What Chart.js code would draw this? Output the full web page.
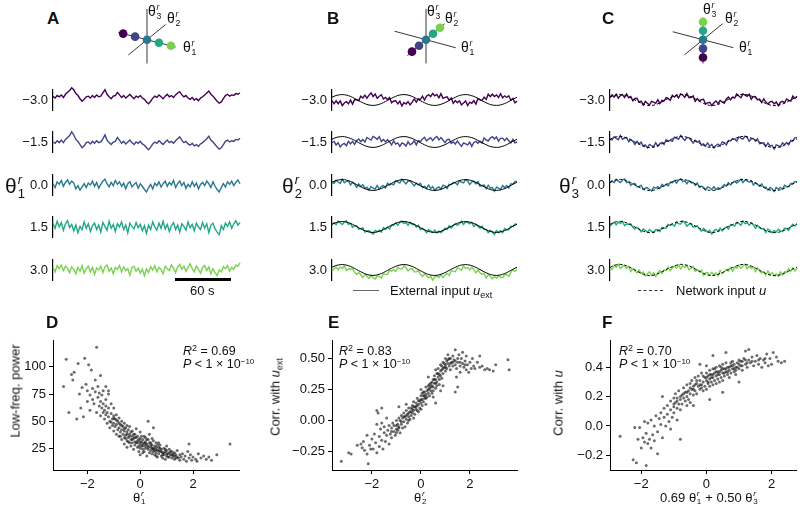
<!DOCTYPE html>
<html><head><meta charset="utf-8">
<script src="https://cdn.jsdelivr.net/npm/chart.js@4.4.1/dist/chart.umd.min.js"></script>
<style>
html,body{margin:0;padding:0;background:#fff;}
body{position:relative;width:800px;height:516px;overflow:hidden;font-family:'Liberation Sans',Arial,sans-serif;color:#111;}
canvas{position:absolute;}
.t{position:absolute;white-space:nowrap;line-height:1;}
.lab{font-weight:bold;font-size:17px;}
.ss{position:relative;display:inline-block;width:0.42em;height:0;}
.ss span{position:absolute;left:0.08em;font-size:0.62em;line-height:1;}
.ss .up{top:-1.55em;font-style:italic;}
.ss .dn{top:-0.45em;}
.rot{position:absolute;white-space:nowrap;line-height:1;transform:translate(-50%,-50%) rotate(-90deg);}
sub,sup{line-height:0;}
</style>
</head><body>
<script>
// ---------- data ----------
const rowLabels = ['\u22123.0','\u22121.5','0.0','1.5','3.0'];
const rowValues = [-3, -1.5, 0, 1.5, 3];
const rowColors = ['#440154','#414487','#2a788e','#22a884','#7ad151'];

const traceA1 = [0.30,0.15,0.35,0.25,0.40,0.20,0.45,0.60,0.75,0.95,0.80,0.50,0.35,0.10,-0.10,0.05,0.25,0.30,0.15,0.35,0.20,0.40,0.25,0.30,0.55,0.80,0.45,0.25,0.10,0.30,0.35,0.60,0.40,0.20,0.35,0.15,0.30,0.45,0.25,0.10,0.30,0.20,0.35,0.15,0.05,-0.15,-0.30,-0.10,0.15,0.30,0.20,0.40,0.25,0.10,0.30,0.45,0.25,0.35,0.20,0.40,0.55,0.65,0.40,0.25,0.35,0.15,0.05,0.20,0.00,0.10,-0.05,0.15,0.25,0.40,0.55,0.70,0.45,0.30,0.10,-0.10,-0.25,-0.15,0.10,0.35,0.45,0.30,0.40,0.35,0.50,0.45,0.55];
const traceA2 = [0.00,-0.10,0.10,-0.05,0.15,-0.05,0.20,0.35,0.50,0.80,0.55,0.20,0.05,-0.20,-0.45,-0.30,-0.05,0.00,-0.15,0.05,-0.10,0.10,-0.05,0.00,0.25,0.55,0.15,-0.05,-0.20,0.00,0.05,0.35,0.15,-0.10,0.05,-0.15,0.00,0.15,-0.05,-0.20,0.00,-0.10,0.05,-0.15,-0.25,-0.45,-0.60,-0.40,-0.15,0.00,-0.10,0.10,-0.05,-0.20,0.00,0.15,-0.05,0.05,-0.10,0.10,0.25,0.40,0.15,-0.05,0.05,-0.15,-0.25,-0.10,-0.30,-0.20,-0.35,-0.15,-0.05,0.10,0.25,0.45,0.15,0.00,-0.20,-0.40,-0.55,-0.45,-0.20,0.05,0.15,0.00,0.10,0.05,0.20,0.15,0.30];
const traceA3 = [0.10,-0.20,0.25,0.05,0.35,-0.10,0.20,0.40,0.05,0.30,0.15,-0.30,-0.05,-0.40,-0.15,0.10,-0.20,0.15,0.00,0.30,-0.10,0.20,-0.25,0.05,0.30,0.45,0.10,-0.15,0.20,-0.05,0.35,0.05,0.25,-0.10,0.15,-0.30,0.10,0.25,-0.15,0.05,0.20,-0.25,0.10,-0.10,-0.35,-0.55,-0.20,0.05,-0.30,0.15,-0.05,0.25,-0.15,0.10,0.30,-0.10,0.20,0.00,0.35,-0.20,0.10,0.30,-0.05,0.20,-0.25,0.05,-0.15,0.25,-0.10,0.15,-0.30,0.05,0.20,-0.05,0.30,0.10,-0.20,0.25,-0.10,-0.35,-0.55,-0.20,0.10,-0.15,0.25,0.05,0.30,-0.05,0.20,0.40,0.10];
const traceA4 = [0.30,-0.10,0.45,0.00,0.35,-0.25,0.25,0.50,-0.05,0.20,-0.30,0.15,-0.45,0.05,-0.20,0.40,-0.10,0.25,-0.35,0.10,0.30,-0.20,0.15,-0.40,0.35,0.05,-0.25,0.45,-0.10,0.20,-0.35,0.25,0.00,0.40,-0.20,0.15,-0.45,0.30,0.05,-0.15,0.35,-0.05,0.20,-0.30,0.10,-0.50,0.15,-0.20,0.40,0.00,-0.25,0.30,-0.10,0.45,-0.15,0.20,-0.35,0.10,0.35,-0.20,0.15,-0.40,0.25,0.05,-0.25,0.40,-0.05,0.20,-0.30,0.30,0.00,-0.20,0.35,-0.10,0.25,-0.45,0.15,0.30,-0.15,-0.40,-0.60,0.10,-0.20,0.30,0.05,0.40,-0.10,0.25,0.50,0.15,0.35];
const traceA5 = [0.20,-0.15,0.35,0.10,0.40,-0.05,0.30,0.15,-0.20,0.25,0.05,-0.30,0.20,-0.10,0.35,-0.25,0.10,0.30,-0.15,0.20,-0.35,0.15,0.00,0.30,-0.20,0.25,0.40,-0.10,0.15,-0.30,0.20,0.05,0.35,-0.15,0.25,-0.05,0.10,-0.40,0.20,0.30,-0.10,0.15,-0.25,0.05,-0.45,0.10,-0.20,0.25,0.00,0.35,-0.15,0.20,0.05,-0.30,0.30,0.10,-0.05,0.40,0.15,-0.20,0.25,0.45,0.05,0.30,-0.10,0.20,0.50,0.10,-0.15,0.30,0.05,-0.25,0.20,0.35,-0.05,0.25,-0.30,0.10,-0.20,-0.45,0.00,-0.15,0.25,0.10,0.35,-0.10,0.20,0.05,0.40,0.30,0.55];

const traceB1 = [-0.05,-0.37,-0.08,-0.37,-0.09,-0.55,-0.29,-0.16,-0.37,-0.01,-0.40,0.04,0.02,-0.05,0.38,0.20,0.47,0.18,0.47,0.69,0.35,0.59,0.16,0.37,0.51,0.10,0.26,0.03,0.25,-0.28,-0.10,-0.07,-0.38,-0.12,-0.59,-0.25,-0.39,-0.16,-0.47,-0.21,0.10,-0.21,0.12,0.05,0.38,0.00,0.37,0.53,0.32,0.64,0.40,0.54,0.21,0.62,0.16,0.25,0.31,-0.02,0.20,-0.33,-0.05,-0.27,-0.08,-0.47,-0.29,-0.10,-0.54,-0.21,-0.32,-0.06,-0.40,0.14,0.02,-0.05,0.28,0.05,0.57,0.33,0.57,0.34,0.50,0.24,0.61,0.22,0.41,0.25,0.41,-0.02,0.15,-0.28,-0.10];
const traceB2 = [-0.05,0.05,-0.29,-0.07,-0.49,-0.24,-0.14,-0.36,0.07,-0.19,0.06,-0.23,0.13,0.29,0.04,0.25,0.00,0.44,0.32,0.19,0.54,0.44,0.26,0.53,0.04,0.24,0.03,0.22,0.01,-0.29,0.10,-0.20,-0.09,-0.42,-0.09,-0.19,-0.39,0.04,-0.28,-0.14,0.11,-0.28,0.13,0.04,0.29,0.45,0.10,0.29,0.42,0.14,0.39,0.54,0.21,0.43,0.19,-0.06,0.23,0.27,-0.14,0.01,-0.20,0.10,-0.19,-0.42,-0.09,-0.19,-0.29,-0.01,-0.43,-0.04,0.06,-0.13,0.08,-0.11,0.39,0.20,0.10,0.39,0.52,0.29,0.49,0.09,0.36,0.38,0.14,0.39,0.13,-0.08,0.26,-0.09,0.00];
const traceB3 = [0.26,0.17,0.46,0.29,0.16,0.57,0.21,0.34,0.40,0.01,0.26,0.09,-0.23,0.11,-0.15,0.04,-0.32,-0.21,-0.49,-0.16,-0.32,-0.41,-0.04,-0.40,-0.16,-0.06,-0.29,0.18,-0.01,0.10,0.01,0.42,0.31,0.19,0.56,0.32,0.11,0.39,0.40,0.16,-0.09,0.19,0.02,0.16,-0.25,-0.11,-0.32,-0.01,-0.34,-0.16,-0.52,-0.31,-0.19,-0.40,-0.01,-0.11,-0.34,0.08,0.04,0.25,0.21,0.02,0.41,0.29,0.21,0.52,0.41,0.04,0.30,0.36,0.11,0.34,-0.13,-0.04,0.00,-0.36,-0.02,-0.31,-0.24,-0.61,-0.22,-0.31,-0.44,-0.05,-0.26,-0.06,-0.29,0.13,0.09,0.35,0.36];
const traceB4 = [0.23,0.41,0.22,0.57,0.39,0.25,0.49,0.61,0.26,0.35,-0.03,0.13,0.13,-0.21,-0.19,-0.08,-0.51,-0.37,-0.37,-0.54,-0.70,-0.34,-0.46,-0.31,-0.50,-0.07,-0.23,-0.03,-0.19,0.19,0.18,0.41,0.17,0.47,0.59,0.35,0.44,0.16,0.46,0.25,0.27,-0.02,0.18,-0.26,-0.14,-0.28,-0.56,-0.27,-0.37,-0.54,-0.30,-0.59,-0.41,-0.56,-0.35,-0.12,-0.23,0.12,-0.09,0.14,0.33,0.16,0.32,0.57,0.24,0.50,0.44,0.31,0.46,0.05,0.27,0.08,-0.12,0.09,-0.24,-0.23,-0.56,-0.32,-0.47,-0.74,-0.35,-0.54,-0.36,-0.56,-0.15,-0.27,-0.28,0.07,0.06,0.29,0.28];
const traceB5 = [-0.12,0.11,0.27,0.02,0.29,0.15,0.39,-0.04,0.11,0.10,0.12,-0.22,-0.42,-0.26,-0.44,-0.73,-0.46,-0.62,-0.82,-0.54,-0.75,-0.89,-0.61,-0.61,-0.80,-0.37,-0.43,-0.43,-0.04,-0.11,0.03,-0.14,0.27,0.12,0.09,0.40,0.24,-0.09,0.11,0.15,-0.18,-0.17,-0.07,-0.41,-0.64,-0.38,-0.56,-0.77,-0.62,-0.99,-0.70,-0.59,-0.76,-0.46,-0.75,-0.52,-0.33,-0.53,-0.09,-0.11,-0.17,0.21,0.12,-0.03,0.39,0.15,0.24,0.01,0.26,0.05,-0.28,-0.02,-0.27,-0.41,-0.34,-0.78,-0.46,-0.62,-0.87,-0.64,-0.80,-0.54,-0.71,-0.76,-0.45,-0.47,-0.63,-0.23,0.01,-0.16,0.08];

const traceC1 = [0.28,0.50,0.27,0.56,0.18,0.44,0.52,0.24,0.59,0.22,0.35,-0.07,0.15,0.17,-0.20,-0.12,-0.49,-0.14,-0.32,-0.49,-0.13,-0.21,-0.32,0.04,-0.35,-0.03,-0.10,0.23,0.15,-0.04,0.47,0.28,0.48,0.21,0.59,0.49,0.26,0.63,0.23,0.27,0.40,-0.13,0.14,-0.08,0.04,0.07,-0.39,-0.29,-0.22,-0.54,-0.27,-0.09,-0.35,-0.05,-0.18,-0.31,0.11,0.29,0.01,0.28,0.18,0.59,0.39,0.22,0.59,0.48,0.36,0.57,0.07,0.35,0.33,0.01,0.08,-0.25,0.12,-0.20,-0.40,-0.19,-0.12,-0.39,-0.19,-0.56,-0.23,-0.13,-0.27,0.10,-0.03,-0.10,0.38,0.15,0.36];
const traceC2 = [0.28,0.20,0.52,0.36,0.23,0.64,0.27,0.39,0.44,0.02,0.25,0.08,-0.25,0.07,-0.20,-0.02,-0.39,-0.29,-0.57,-0.24,-0.38,-0.46,-0.07,-0.41,-0.15,-0.03,-0.25,0.23,0.05,0.16,0.07,0.48,0.38,0.26,0.64,0.39,0.16,0.43,0.43,0.17,-0.10,0.17,-0.01,0.12,-0.31,-0.18,-0.39,-0.09,-0.42,-0.24,-0.57,-0.34,-0.20,-0.40,0.02,-0.06,-0.29,0.14,0.11,0.33,0.28,0.09,0.49,0.37,0.29,0.58,0.46,0.07,0.32,0.35,0.08,0.31,-0.17,-0.10,-0.08,-0.45,-0.10,-0.39,-0.32,-0.69,-0.29,-0.36,-0.48,-0.08,-0.27,-0.05,-0.28,0.15,0.13,0.40,0.41];
const traceC3 = [0.23,0.40,0.22,0.56,0.38,0.24,0.47,0.59,0.24,0.32,-0.05,0.13,0.15,-0.18,-0.15,-0.02,-0.44,-0.29,-0.27,-0.44,-0.58,-0.21,-0.32,-0.16,-0.35,0.07,-0.10,0.08,-0.10,0.26,0.22,0.43,0.18,0.46,0.59,0.34,0.41,0.13,0.43,0.22,0.25,-0.03,0.19,-0.23,-0.11,-0.23,-0.49,-0.19,-0.27,-0.44,-0.17,-0.44,-0.25,-0.40,-0.18,0.04,-0.09,0.24,0.01,0.23,0.38,0.19,0.34,0.57,0.24,0.48,0.41,0.27,0.42,0.00,0.23,0.06,-0.12,0.10,-0.23,-0.20,-0.50,-0.24,-0.37,-0.64,-0.24,-0.41,-0.23,-0.43,-0.02,-0.15,-0.18,0.15,0.13,0.35,0.31];
const traceC4 = [0.08,0.30,0.47,0.21,0.48,0.34,0.57,0.14,0.29,0.27,0.30,-0.02,-0.20,-0.03,-0.20,-0.47,-0.19,-0.34,-0.52,-0.24,-0.43,-0.56,-0.27,-0.26,-0.45,-0.03,-0.10,-0.12,0.25,0.16,0.27,0.08,0.48,0.31,0.29,0.59,0.41,0.08,0.28,0.32,0.00,0.02,0.14,-0.18,-0.41,-0.13,-0.29,-0.49,-0.32,-0.69,-0.37,-0.24,-0.40,-0.10,-0.38,-0.16,0.01,-0.21,0.21,0.18,0.08,0.44,0.34,0.17,0.59,0.33,0.41,0.17,0.42,0.20,-0.12,0.16,-0.07,-0.20,-0.13,-0.55,-0.20,-0.34,-0.57,-0.34,-0.49,-0.21,-0.38,-0.43,-0.12,-0.15,-0.33,0.05,0.28,0.10,0.31];
const traceC5 = [0.23,0.05,0.47,0.26,0.58,0.14,0.37,0.44,0.14,0.37,-0.15,0.13,-0.05,-0.28,0.00,-0.32,-0.19,-0.59,-0.37,-0.19,-0.53,-0.26,-0.62,-0.31,-0.05,-0.33,0.00,-0.07,0.30,-0.09,0.22,0.38,0.18,0.51,0.09,0.44,0.26,0.43,0.03,0.17,0.35,-0.13,0.04,-0.18,-0.01,-0.53,-0.29,-0.24,-0.52,-0.24,-0.47,-0.29,-0.55,-0.05,-0.38,-0.16,0.06,-0.11,0.26,-0.12,0.28,0.19,0.49,0.17,0.39,0.58,0.11,0.37,0.17,0.30,-0.17,0.21,-0.07,-0.30,-0.13,-0.50,-0.10,-0.44,-0.27,-0.54,-0.39,-0.61,-0.18,-0.48,-0.17,-0.20,0.12,-0.15,0.18,-0.10,0.21];

const extInput = [0.27,0.36,0.44,0.49,0.52,0.53,0.52,0.48,0.42,0.35,0.26,0.15,0.04,-0.07,-0.17,-0.27,-0.36,-0.44,-0.49,-0.52,-0.53,-0.52,-0.48,-0.42,-0.35,-0.26,-0.15,-0.04,0.07,0.17,
0.27,0.36,0.44,0.49,0.52,0.53,0.52,0.48,0.42,0.35,0.26,0.15,0.04,-0.07,-0.17,-0.27,-0.36,-0.44,-0.49,-0.52,-0.53,-0.52,-0.48,-0.42,-0.35,-0.26,-0.15,-0.04,0.07,0.17,
0.27,0.36,0.44,0.49,0.52,0.53,0.52,0.48,0.42,0.35,0.26,0.15,0.04,-0.07,-0.17,-0.27,-0.36,-0.44,-0.49,-0.52,-0.53,-0.52,-0.48,-0.42,-0.35,-0.26,-0.15,-0.04,0.07,0.17,0.27];
const netInput = [0.25,0.36,0.45,0.51,0.54,0.55,0.53,0.48,0.41,0.32,0.22,0.11,0.00,-0.11,-0.22,-0.32,-0.41,-0.48,-0.53,-0.55,-0.54,-0.51,-0.45,-0.37,-0.28,-0.18,-0.07,0.04,0.14,0.23,
0.32,0.40,0.47,0.52,0.55,0.55,0.52,0.47,0.40,0.31,0.21,0.10,-0.01,-0.12,-0.23,-0.33,-0.42,-0.49,-0.53,-0.55,-0.53,-0.49,-0.43,-0.35,-0.26,-0.16,-0.05,0.06,0.16,0.25,
0.33,0.41,0.48,0.53,0.55,0.54,0.51,0.45,0.38,0.29,0.19,0.08,-0.03,-0.14,-0.25,-0.35,-0.43,-0.49,-0.53,-0.55,-0.55,-0.52,-0.47,-0.40,-0.32,-0.22,-0.11,0.00,0.11,0.21,0.30];

const pointsD = [[-2.9,82],[-2.8,107],[-2.7,58],[-2.6,93],[-2.55,88],[-2.5,95],[-2.4,52],[-2.35,103],[-2.3,75],[-2.25,62],[-2.2,81],[-2.15,54],[-2.1,108],[-2.05,84],[-2.0,78],[-2.0,68],[-1.95,102],[-1.9,74],[-1.9,60],[-1.85,97],[-1.8,80],[-1.8,70],[-1.75,66],[-1.7,88],[-1.7,77],[-1.65,118],[-1.65,58],[-1.6,72],[-1.6,82],[-1.55,64],[-1.55,76],[-1.5,92],[-1.5,55],[-1.5,68],
[-1.45,62],[-1.45,74],[-1.4,58],[-1.4,66],[-1.4,78],[-1.35,52],[-1.35,60],[-1.3,70],[-1.3,56],[-1.3,64],[-1.25,48],[-1.25,58],[-1.2,62],[-1.2,54],[-1.2,75],[-1.15,50],[-1.15,44],[-1.1,57],[-1.1,49],[-1.1,66],[-1.05,52],[-1.05,46],[-1.0,41],[-1.0,55],[-1.0,48],[-1.0,62],[-1.3,82],[-1.2,78],
[-0.95,45],[-0.95,52],[-0.9,38],[-0.9,47],[-0.9,56],[-0.85,42],[-0.85,50],[-0.8,44],[-0.8,36],[-0.8,53],[-0.75,40],[-0.75,47],[-0.7,33],[-0.7,42],[-0.7,50],[-0.65,38],[-0.65,45],[-0.6,35],[-0.6,41],[-0.6,48],[-0.6,29],[-0.55,37],[-0.55,44],[-0.5,32],[-0.5,40],[-0.5,46],[-0.5,26],
[-0.45,35],[-0.45,42],[-0.4,30],[-0.4,38],[-0.4,45],[-0.35,33],[-0.35,27],[-0.3,36],[-0.3,41],[-0.3,30],[-0.25,34],[-0.25,24],[-0.2,38],[-0.2,31],[-0.2,28],[-0.15,35],[-0.15,43],[-0.1,30],[-0.1,26],[-0.1,36],[-0.05,33],[-0.05,22],[0.0,29],[0.0,34],[0.0,25],[0.0,40],[0.0,19],
[0.05,31],[0.05,27],[0.1,24],[0.1,33],[0.1,29],[0.15,36],[0.15,22],[0.2,27],[0.2,31],[0.2,25],[0.25,18],[0.25,29],[0.3,24],[0.3,33],[0.3,27],[0.35,21],[0.35,38],[0.4,26],[0.4,23],[0.4,30],[0.45,20],[0.45,28],[0.5,25],[0.5,22],[0.5,32],[0.5,44],[0.3,50],
[0.55,27],[0.55,19],[0.6,24],[0.6,21],[0.6,30],[0.65,23],[0.65,17],[0.7,26],[0.7,20],[0.75,22],[0.75,28],[0.8,18],[0.8,24],[0.85,21],[0.85,16],[0.9,25],[0.9,19],[0.95,22],[1.0,18],[1.0,23],[1.0,27],[0.95,15],
[1.05,20],[1.1,17],[1.1,24],[1.15,19],[1.2,22],[1.2,16],[1.25,18],[1.3,21],[1.3,15],[1.35,19],[1.4,17],[1.4,23],[1.45,16],[1.5,19],[1.5,14],
[1.55,17],[1.6,20],[1.65,15],[1.7,18],[1.75,13],[1.8,22],[1.85,16],[1.9,19],[1.95,14],[1.85,29],[2.0,17],
[2.1,15],[2.2,20],[2.3,16],[2.4,18],[2.5,15],[2.6,17],[2.7,14],[2.9,19],[3.4,29],[2.15,13],
[-0.3,33],[-0.2,35],[-0.1,32],[0.0,31],[0.1,27],[0.2,29],[0.3,26],[0.4,28],[0.5,24],[0.6,26],[0.7,23],[0.8,22],[0.9,21],[1.0,20],[1.1,21],[1.2,19],[1.3,18],[-0.4,36],[-0.5,38],[-0.6,43],[-0.7,46],[-0.8,48],[-0.9,51],[-1.0,53],[0.05,36],[0.15,30],[0.25,33],[0.35,30],[0.45,25],[0.55,23],[0.65,28],[0.75,25],[0.85,19],[-0.15,30],[-0.25,38],[-0.35,40],[0.95,24],[1.05,17],[1.15,22],[1.25,20],[1.35,16],[0.7,30],[0.2,35],[-0.05,27],[-0.45,31],[-0.55,34],[0.45,34],[0.1,21],[0.6,18],[-0.75,36]];

const pointsE = [[-3.25,-0.33],[-2.95,-0.26],[-2.85,-0.27],[-2.6,-0.2],[-2.45,-0.19],[-2.4,-0.22],[-2.35,-0.17],[-2.3,-0.24],[-2.2,-0.12],[-2.2,-0.27],[-2.15,-0.35],[-2.1,-0.2],[-2.05,-0.23],[-2.0,-0.15],[-1.95,-0.23],[-1.9,-0.11],[-1.85,-0.18],[-1.8,-0.03],[-1.8,-0.26],[-1.75,0.06],[-1.7,-0.13],[-1.7,-0.21],[-1.65,-0.07],[-1.6,-0.16],[-1.6,-0.02],[-1.55,-0.23],[-1.5,-0.1],[-1.5,-0.05],[-1.45,-0.17],[-1.4,-0.12],[-1.4,0.02],[-1.35,-0.08],[-1.3,-0.19],[-1.3,-0.04],
[-1.25,-0.11],[-1.2,-0.06],[-1.2,-0.14],[-1.15,-0.02],[-1.1,-0.09],[-1.1,-0.04],[-1.05,-0.12],[-1.0,-0.07],[-1.0,0.0],[-1.0,-0.1],[-0.95,-0.03],[-0.95,-0.08],[-0.9,0.02],[-0.9,-0.05],[-0.85,-0.1],[-0.85,0.0],[-0.8,-0.03],[-0.8,0.04],[-0.75,-0.06],[-0.75,0.02],[-0.7,0.06],[-0.7,-0.01],[-0.65,0.03],[-0.65,-0.05],[-0.6,0.08],[-0.6,0.01],[-0.55,0.05],[-0.55,-0.02],[-0.5,0.03],[-0.5,0.1],[-0.5,0.06],
[-0.45,0.07],[-0.45,0.01],[-0.4,0.1],[-0.4,0.04],[-0.35,0.12],[-0.35,0.06],[-0.3,0.08],[-0.3,0.15],[-0.3,0.02],[-0.25,0.11],[-0.25,0.05],[-0.2,0.14],[-0.2,0.09],[-0.15,0.12],[-0.15,0.18],[-0.1,0.07],[-0.1,0.13],[-0.05,0.16],[-0.05,0.1],[0.0,0.14],[0.0,0.2],[0.0,0.09],[0.0,0.25],
[0.05,0.17],[0.05,0.12],[0.1,0.2],[0.1,0.15],[0.15,0.23],[0.15,0.18],[0.2,0.13],[0.2,0.21],[0.2,0.27],[0.25,0.19],[0.25,0.24],[0.3,0.22],[0.3,0.28],[0.35,0.2],[0.35,0.26],[0.4,0.3],[0.4,0.24],[0.45,0.28],[0.45,0.22],[0.5,0.33],[0.5,0.27],[0.5,0.19],
[0.55,0.3],[0.55,0.36],[0.6,0.26],[0.6,0.33],[0.65,0.38],[0.65,0.31],[0.7,0.35],[0.7,0.42],[0.75,0.29],[0.75,0.37],[0.8,0.4],[0.8,0.45],[0.85,0.34],[0.85,0.41],[0.9,0.47],[0.9,0.38],[0.95,0.43],[1.0,0.5],[1.0,0.4],[1.0,0.45],[0.6,0.14],[0.8,0.24],[0.9,0.28],
[1.05,0.48],[1.05,0.42],[1.1,0.53],[1.1,0.46],[1.15,0.44],[1.2,0.5],[1.2,0.41],[1.25,0.47],[1.3,0.52],[1.3,0.44],[1.35,0.49],[1.4,0.57],[1.4,0.45],[1.45,0.42],[1.5,0.5],[1.5,0.47],[1.5,0.27],[1.4,0.23],[1.45,0.35],
[1.55,0.53],[1.6,0.44],[1.6,0.39],[1.65,0.5],[1.7,0.46],[1.7,0.55],[1.75,0.43],[1.8,0.48],[1.85,0.41],[1.85,0.52],[1.9,0.45],[1.95,0.39],[2.0,0.47],[2.05,0.42],[2.1,0.5],[2.15,0.44],[2.2,0.42],
[2.3,0.47],[2.4,0.43],[2.5,0.44],[2.6,0.41],[2.7,0.42],[2.8,0.41],[2.95,0.4],[3.05,0.45],[3.55,0.49],[3.6,0.41],[2.4,0.52],
[-0.9,0.11],[-0.6,0.13],[0.3,0.35],[0.6,0.41],[-1.6,0.1],[-1.8,0.08],
[-0.8,-0.01],[-0.6,0.04],[-0.4,0.07],[-0.2,0.11],[0.0,0.17],[0.2,0.18],[0.4,0.27],[0.6,0.3],[0.8,0.36],[1.0,0.43],[1.2,0.46],[1.4,0.48],[-1.0,-0.04],[-1.2,-0.09],[-0.5,0.0],[-0.3,0.11],[-0.1,0.16],[0.1,0.23],[0.3,0.25],[0.5,0.24],[0.7,0.38],[0.9,0.42],[1.1,0.49],[1.3,0.47],[1.6,0.47],[1.8,0.45],[-0.7,0.03],[0.15,0.2],[0.35,0.29],[0.55,0.33],[0.75,0.33],[0.95,0.46],[-0.15,0.08],[-0.35,0.09],[0.05,0.22],[0.45,0.31],[0.65,0.28],[0.85,0.44],[1.15,0.5],[-0.9,-0.06]];

const pointsF = [[-2.65,-0.07],[-2.25,-0.23],[-2.2,-0.01],[-2.15,-0.25],[-2.1,-0.09],[-2.05,-0.01],[-2.0,-0.15],[-1.95,-0.08],[-1.9,-0.11],[-1.9,0.03],[-1.85,-0.27],[-1.85,-0.05],[-1.8,-0.12],[-1.8,0.02],[-1.75,-0.09],[-1.7,0.04],[-1.7,-0.15],[-1.65,-0.06],[-1.6,0.0],[-1.6,-0.1],[-1.55,0.07],[-1.5,-0.04],[-1.5,-0.19],[-1.45,0.05],[-1.4,0.01],[-1.4,0.09],[-1.35,-0.08],[-1.3,0.06],[-1.3,0.12],[-1.25,0.0],[-1.2,0.08],[-1.2,0.14],[-1.15,0.03],[-1.1,0.11],[-1.1,0.17],[-1.05,0.06],[-1.0,0.13],[-1.0,0.19],[-1.0,0.09],[-0.95,0.16],[-0.95,0.22],[-0.9,0.12],[-0.9,0.19],[-0.85,0.15],[-0.85,0.24],[-0.8,0.18],[-0.8,0.11],[-0.8,-0.09],[-0.75,0.21],[-0.75,0.15],[-0.7,0.19],[-0.7,0.26],[-0.65,0.17],[-0.65,0.23],[-0.6,0.2],[-0.6,0.28],[-0.6,0.14],[-0.55,0.24],[-0.55,0.18],[-0.5,0.22],[-0.5,0.29],[-0.5,0.16],[-0.45,0.25],[-0.45,0.31],[-0.4,0.21],[-0.4,0.27],[-0.35,0.24],[-0.35,0.33],[-0.3,0.29],[-0.3,0.22],[-0.25,0.27],[-0.25,0.34],[-0.2,0.25],[-0.2,0.31],[-0.15,0.28],[-0.15,0.36],[-0.1,0.3],[-0.1,0.24],[-0.05,0.33],[-0.05,0.27],[0.0,0.31],[0.0,0.36],[0.0,0.25],[0.0,0.41],[0.05,0.29],[0.05,0.34],[0.1,0.32],[0.1,0.38],[0.1,0.27],[0.15,0.35],[0.15,0.3],[0.2,0.33],[0.2,0.39],[0.2,0.28],[0.25,0.36],[0.25,0.31],[0.3,0.34],[0.3,0.4],[0.3,0.29],[0.35,0.37],[0.35,0.32],[0.4,0.35],[0.4,0.41],[0.4,0.3],[0.45,0.38],[0.45,0.33],[0.5,0.36],[0.5,0.42],[0.5,0.31],[0.55,0.39],[0.55,0.34],[0.6,0.37],[0.6,0.43],[0.65,0.35],[0.65,0.4],[0.7,0.38],[0.7,0.33],[0.75,0.41],[0.75,0.36],[0.8,0.39],[0.8,0.44],[0.85,0.37],[0.85,0.42],[0.9,0.4],[0.9,0.35],[0.95,0.43],[1.0,0.39],[1.0,0.45],[1.05,0.41],[1.1,0.44],[1.1,0.38],[1.15,0.46],[1.2,0.42],[1.2,0.51],[1.25,0.4],[1.3,0.45],[1.35,0.43],[1.4,0.47],[1.45,0.41],[1.5,0.44],[1.55,0.48],[1.6,0.42],[1.65,0.46],[1.7,0.4],[1.75,0.45],[1.8,0.43],[1.85,0.49],[1.9,0.41],[1.95,0.46],[2.0,0.42],[2.05,0.5],[2.15,0.47],[2.2,0.44],[2.3,0.43],[2.4,0.44],[1.3,0.52],[0.6,0.5],[0.2,0.48],[-0.2,0.42],[-1.35,0.2],[-0.4,0.14],[0.1,0.18],[-0.9,0.04],[-1.1,-0.02],[1.0,0.3],[0.5,0.23],
[-0.6,0.23],[-0.4,0.25],[-0.2,0.28],[0.0,0.33],[0.2,0.35],[0.4,0.37],[0.6,0.39],[0.8,0.41],[1.0,0.42],[1.2,0.45],[-0.8,0.2],[-1.0,0.15],[-0.3,0.31],[-0.1,0.34],[0.1,0.35],[0.3,0.37],[0.5,0.39],[0.7,0.4],[0.9,0.38],[1.1,0.41],[1.4,0.44],[1.6,0.45],[1.8,0.46],[-0.5,0.26],[-0.7,0.22],[0.15,0.33],[0.35,0.35],[0.55,0.36],[0.75,0.43],[0.95,0.4],[-0.15,0.26],[-0.35,0.28],[0.05,0.3],[0.25,0.39],[0.45,0.4],[0.65,0.37],[0.85,0.39],[1.05,0.44],[1.25,0.43],[-0.9,0.17]];

const ticksD_x = [-2, 0, 2], ticksD_y = [25, 50, 75, 100];
const ticksE_x = [-2, 0, 2], ticksE_y = [-0.25, 0, 0.25, 0.5];
const ticksF_x = [-2, 0, 2], ticksF_y = [-0.2, 0, 0.2, 0.4];

// ---------- helpers ----------
Chart.defaults.font.family = "'Liberation Sans', Arial, sans-serif";
Chart.defaults.color = '#111';
const maxLen = Math.max(traceA1.length, extInput.length);
const timeSteps = Array.from({length: maxLen}, (_, i) => i);

function makeCanvas(l, t, w, h) {
  const c = document.createElement('canvas');
  c.width = w; c.height = h;
  c.style.left = l + 'px'; c.style.top = t + 'px';
  c.style.width = w + 'px'; c.style.height = h + 'px';
  document.body.appendChild(c);
  return c;
}
function fmt(v, d) { return Number(v).toFixed(d).replace('-', '\u2212'); }
function addText(l, t, html, cls, style) {
  const d = document.createElement('div');
  d.className = cls || 't';
  d.style.left = l + 'px'; d.style.top = t + 'px';
  if (style) d.style.cssText += style;
  d.innerHTML = html;
  document.body.appendChild(d);
  return d;
}
function th(n) { return '\u03b8<span class="ss"><span class="up">r</span><span class="dn">' + n + '</span></span>'; }

// ---------- top row: traces ----------
const rowTops = [83, 125, 168, 210, 253];
const rowH = 34, PAD = 6;
const panels = {
  A: {left: 8, width: 234, yW: 45, padR: 2, yR: 0.8, traces: [traceA1, traceA2, traceA3, traceA4, traceA5], ref: null},
  B: {left: 287, width: 232, yW: 45, padR: 2, yR: 1, traces: [traceB1, traceB2, traceB3, traceB4, traceB5], ref: extInput, dash: []},
  C: {left: 565, width: 234, yW: 45, padR: 2, yR: 1, traces: [traceC1, traceC2, traceC3, traceC4, traceC5], ref: netInput, dash: [3, 2]}
};
Object.values(panels).forEach(p => {
  p.traces.forEach((series, r) => {
    const cv = makeCanvas(p.left, rowTops[r] - PAD, p.width, rowH + 2 * PAD);
    const ds = [];
    if (p.ref) ds.push({data: p.ref, borderColor: '#000', borderWidth: 1, borderDash: p.dash, pointRadius: 0, tension: 0.3, clip: false, order: 0});
    ds.push({data: series, borderColor: rowColors[r], borderWidth: 1.4, pointRadius: 0, clip: false, order: 1});
    new Chart(cv, {
      type: 'line',
      data: {labels: timeSteps, datasets: ds},
      options: {
        responsive: false, animation: false, devicePixelRatio: 1,
        layout: {padding: {top: PAD, bottom: PAD, left: 0, right: p.padR}},
        plugins: {legend: {display: false}, tooltip: {enabled: false}},
        scales: {
          x: {display: false},
          y: {min: -p.yR, max: p.yR,
            afterFit: s => { s.width = p.yW; },
            afterBuildTicks: s => { s.ticks = [{value: 0}]; },
            ticks: {callback: () => rowLabels[r], font: {size: 13}, color: '#111', padding: 5},
            grid: {display: false, drawTicks: false},
            border: {display: true, color: '#000', width: 1.2}}
        }
      }
    });
  });
});

// ---------- schematics ----------
function schematic(cx, axes, dotDir) {
  const cv = makeCanvas(cx - 50, 0, 100, 75);
  const ds = [{data: rowValues.map(v => ({x: v * dotDir[0], y: v * dotDir[1]})), pointRadius: 4.3, pointBackgroundColor: rowColors, pointBorderWidth: 0, showLine: false, order: 0}];
  axes.forEach(a => ds.push({data: [{x: a.dir[0] * a.from, y: a.dir[1] * a.from}, {x: a.dir[0] * a.to, y: a.dir[1] * a.to}], showLine: true, borderColor: '#222', borderWidth: 0.9, pointRadius: 0, order: 1}));
  new Chart(cv, {type: 'scatter', data: {datasets: ds}, options: {
    responsive: false, animation: false, devicePixelRatio: 1,
    layout: {padding: 0},
    plugins: {legend: {display: false}, tooltip: {enabled: false}},
    scales: {x: {type: 'linear', min: -50, max: 50, display: false}, y: {type: 'linear', min: -35, max: 40, display: false}}
  }});
}
schematic(147, [{dir: [8.7, -2.3], from: -3.6, to: 3.6}, {dir: [5.1, 4.3], from: -4, to: 4}, {dir: [0, 6.7], from: -4, to: 5.2}], [8.7, -2.3]);
schematic(426, [{dir: [9.3, -2.6], from: -3.7, to: 3.5}, {dir: [5.1, 4.5], from: -4, to: 4}, {dir: [0, 6.7], from: -4, to: 5.2}], [5.1, 4.5]);
schematic(703, [{dir: [9.2, -2.5], from: -3.6, to: 3.6}, {dir: [5.1, 4.3], from: -4, to: 4.2}, {dir: [0, 6.7], from: -4, to: 3.7}], [0, 6.7]);

// ---------- bottom row: scatter ----------
function scatterChart(c) {
  const cv = makeCanvas(c.left, 330, c.width, 186);
  new Chart(cv, {
    type: 'scatter',
    data: {datasets: [{data: c.points.map(p => ({x: p[0], y: p[1]})), pointRadius: 1.5, pointBackgroundColor: 'rgba(20,20,20,0.62)', pointBorderWidth: 0}]},
    options: {
      responsive: false, animation: false, devicePixelRatio: 1,
      layout: {padding: {top: 8, left: 0, right: c.padR, bottom: 0}},
      plugins: {legend: {display: false}, tooltip: {enabled: false}},
      scales: {
        x: {type: 'linear', min: c.xMin, max: c.xMax,
          afterFit: s => { s.height = 46; },
          afterBuildTicks: s => { s.ticks = c.xTicks.map(v => ({value: v})); },
          ticks: {callback: v => fmt(v, 0), font: {size: 13}, color: '#111', padding: 3, maxRotation: 0, autoSkip: false},
          grid: {display: true, drawOnChartArea: false, drawTicks: true, tickLength: 4, tickColor: '#000', tickWidth: 1, color: '#000'},
          border: {display: true, color: '#000', width: 1}},
        y: {type: 'linear', min: c.yMin, max: c.yMax,
          afterFit: s => { s.width = c.yW; },
          afterBuildTicks: s => { s.ticks = c.yTicks.map(v => ({value: v})); },
          ticks: {callback: v => fmt(v, c.yDec), font: {size: 13}, color: '#111', padding: 3, autoSkip: false},
          grid: {display: true, drawOnChartArea: false, drawTicks: true, tickLength: 4, tickColor: '#000', tickWidth: 1, color: '#000'},
          border: {display: true, color: '#000', width: 1}}
      }
    }
  });
}
scatterChart({left: 0, width: 245, padR: 6, yW: 53, points: pointsD, xMin: -3.3, xMax: 3.74, yMin: 5, yMax: 124, xTicks: ticksD_x, yTicks: ticksD_y, yDec: 0});
scatterChart({left: 270, width: 252, padR: 5, yW: 62, points: pointsE, xMin: -3.63, xMax: 3.92, yMin: -0.40, yMax: 0.643, xTicks: ticksE_x, yTicks: ticksE_y, yDec: 2});
scatterChart({left: 548, width: 252, padR: 3, yW: 62, points: pointsF, xMin: -2.96, xMax: 2.75, yMin: -0.30, yMax: 0.58, xTicks: ticksF_x, yTicks: ticksF_y, yDec: 1});

// ---------- text ----------
addText(47, 10, 'A', 't lab'); addText(327, 10, 'B', 't lab'); addText(602, 10, 'C', 't lab');
addText(46, 314, 'D', 't lab'); addText(328, 314, 'E', 't lab'); addText(602, 314, 'F', 't lab');
const sch = 'font-size:14px;';
addText(148, 4, th(3), 't', sch); addText(167, 11, th(2), 't', sch); addText(183, 40, th(1), 't', sch);
addText(427, 4, th(3), 't', sch); addText(445, 11, th(2), 't', sch); addText(461, 40, th(1), 't', sch);
addText(703, 2, th(3), 't', sch); addText(725, 11, th(2), 't', sch); addText(739, 40, th(1), 't', sch);
const big = 'font-size:21px;';
addText(5, 175, th(1), 't', big); addText(282, 175, th(2), 't', big); addText(559, 175, th(3), 't', big);
const bar = document.createElement('div');
bar.style.cssText = 'position:absolute;left:175px;top:278px;width:56px;height:3px;background:#000;';
document.body.appendChild(bar);
addText(190, 284, '60 s', 't', 'font-size:13px;');
const l1 = document.createElement('div');
l1.style.cssText = 'position:absolute;left:353px;top:290px;width:26px;border-top:1.5px solid #666;';
document.body.appendChild(l1);
addText(390, 284, 'External input <i>u</i><sub style="font-size:9px;vertical-align:-3px">ext</sub>', 't', 'font-size:13px;');
const l2 = document.createElement('div');
l2.style.cssText = 'position:absolute;left:638px;top:290px;width:25px;border-top:1px dashed #333;';
document.body.appendChild(l2);
addText(676, 284, 'Network input <i>u</i>', 't', 'font-size:13px;');
const stat = 'font-size:12.5px;line-height:13px;';
const statHTML = r => '<i>R</i><sup style="font-size:9px;vertical-align:4px">2</sup> = ' + r + '<br><i>P</i> &lt; 1 \u00d7 10<sup style="font-size:8px;vertical-align:4px">\u221210</sup>';
addText(183, 345, statHTML('0.69'), 't', stat);
addText(339, 345, statHTML('0.83'), 't', stat);
addText(619, 345, statHTML('0.70'), 't', stat);
const ax = 'font-size:13px;';
addText(133, 491, th(1), 't', ax);
addText(414, 491, th(2), 't', ax);
addText(660, 491, '0.69 ' + th(1) + ' + 0.50 ' + th(3), 't', ax);
addText(15, 391, 'Low-freq. power', 'rot', ax);
addText(275, 397, 'Corr. with <i>u</i><sub style="font-size:9px;vertical-align:-3px">ext</sub>', 'rot', ax);
addText(558, 403, 'Corr. with <i>u</i>', 'rot', ax);
</script>
</body></html>
